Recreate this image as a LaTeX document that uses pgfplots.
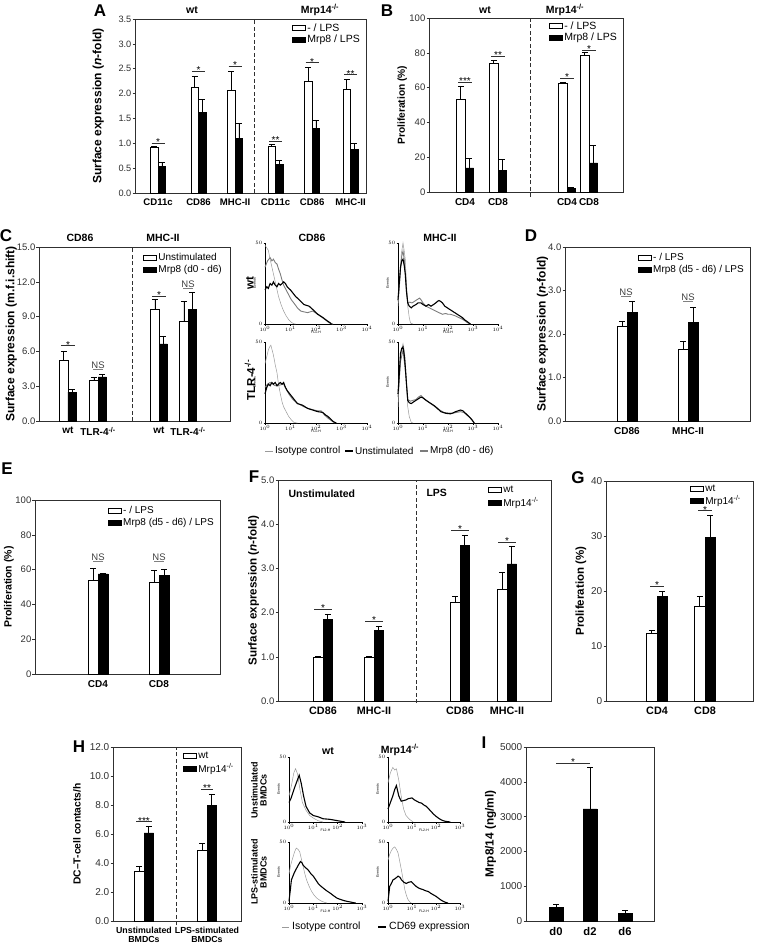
\documentclass[border=0pt]{standalone}
\usepackage{fontspec}
\setmainfont{Liberation Sans}
\setsansfont{Liberation Sans}
\usepackage{pgfplots}
\pgfplotsset{compat=1.18}
\definecolor{axc}{HTML}{303030}
\definecolor{isoc}{HTML}{9A9A9A}
\definecolor{mrpc}{HTML}{7C7C7C}

\newcommand\sstar[4]{\draw[axc,line width=0.6pt] (axis cs:#1,#3) -- node[anchor=south,inner sep=0pt,yshift=-2.8pt,font=\fontsize{10}{10}\selectfont,text=black]{#4} (axis cs:#2,#3);}
\newcommand\sns[3]{\draw[gray,line width=0.6pt] (axis cs:#1,#3) -- node[anchor=south,inner sep=0.4pt,font=\fontsize{9.5}{10}\selectfont,text=darkgray]{NS} (axis cs:#2,#3);}
\newcommand\dline[3]{\draw[axc,dash pattern=on 4pt off 2.5pt,line width=0.8pt] (axis cs:#1,#2) -- (axis cs:#1,#3);}
\newcommand\fs[1]{\fontsize{#1}{#1}\selectfont}

\pgfplotsset{
 bp/.style={
  scale only axis, ybar=0pt, bar width=8pt, ymin=0,
  axis line style={draw=axc,line width=0.8pt},
  ytick pos=left, tick align=outside, major tick length=2.5pt,
  ytick style={draw=axc,line width=0.6pt},
  xtick style={draw=none},
  yticklabel style={font=\fs{9.5}, text=axc, inner sep=1pt},
  xticklabel style={font=\bfseries\fs{10}},
  ylabel style={font=\bfseries\fs{12}},
  /pgf/number format/assume math mode=true,
  /pgf/number format/1000 sep={},
  clip=false,
  error bars/y dir=plus, error bars/y explicit,
  error bars/error bar style={black,line width=0.7pt},
  error bars/error mark options={black,line width=0.7pt,mark size=3pt,rotate=90},
  legend style={draw=none,fill=none,font=\fs{10}, inner sep=0pt, row sep=-0.5pt, at={(1,1)}, anchor=north east, xshift=-4pt, yshift=-4pt},
  legend cell align=left,
 },
 onedec/.style={yticklabel style={/pgf/number format/fixed,/pgf/number format/fixed zerofill,/pgf/number format/precision=1}},
 wb/.style={fill=white,draw=black,line width=0.6pt, legend image code/.code={\draw[fill=white,draw=black,line width=0.6pt] (0pt,-2.5pt) rectangle (13pt,2.5pt);}},
 bb/.style={fill=black,draw=black,line width=0.6pt, legend image code/.code={\draw[fill=black,draw=black] (0pt,-2.5pt) rectangle (13pt,2.5pt);}},
 hist/.style={scale only axis, axis lines=left, axis line style={-,draw=black,line width=0.5pt},
  xmin=0, xmax=4, ymin=0, ymax=50, xtick={0,1,2,3,4},
  xticklabels={$10^0$,$10^1$,$10^2$,$10^3$,$10^4$}, ytick={0,50},
  tick align=outside, major tick length=1.5pt, tick style={black,line width=0.4pt},
  ticklabel style={font=\fs{4.5}, inner sep=1pt},
  ylabel={Events}, ylabel style={font=\fs{3.5}, yshift=-5pt},
  xlabel style={font=\fs{3.5}, yshift=5pt},
  enlargelimits=false, clip=false},
 hist3/.style={hist, xmax=3, xtick={0,1,2,3}, xticklabels={$10^0$,$10^1$,$10^2$,$10^3$}},
 iso/.style={isoc, line width=0.5pt, no marks},
 uns/.style={black, line width=1.1pt, no marks},
 mrp/.style={mrpc, line width=0.9pt, no marks},
}

\begin{document}
\begin{tikzpicture}
\path[use as bounding box] (0pt,0pt) rectangle (757pt,-943pt);
\tikzset{lett/.style={font=\bfseries\fs{17}}, ttl/.style={font=\bfseries\fs{10.5}}}

% ---------------- A ----------------
\begin{axis}[bp, onedec, at={(135pt,-193pt)}, anchor=south west, width=231pt, height=174pt,
  xmin=0, xmax=6, ymax=3.5, ytick={0,0.5,...,3.5}, bar width=7.5pt,
  yticklabel style={font=\fs{9.2}},
  xtick={0.6,1.65,2.6,3.65,4.6,5.6}, xticklabels={CD11c,CD86,MHC-II,CD11c,CD86,MHC-II},
  xticklabel style={font=\bfseries\fs{9.6}},
  ylabel={Surface expression (\textit{n}-fold)}, ylabel shift=10pt,
  legend style={font=\fs{10.5}, row sep=-2pt, yshift=1.5pt}]
\addplot[wb] coordinates {(0.6,0.92)+-(0,0.01) (1.65,2.12)+-(0,0.23) (2.6,2.07)+-(0,0.38) (3.65,0.93)+-(0,0.05) (4.6,2.24)+-(0,0.29) (5.6,2.08)+-(0,0.2)};
\addplot[bb] coordinates {(0.6,0.53)+-(0,0.09) (1.65,1.62)+-(0,0.26) (2.6,1.10)+-(0,0.30) (3.65,0.57)+-(0,0.08) (4.6,1.30)+-(0,0.17) (5.6,0.87)+-(0,0.13)};
\legend{- / LPS, Mrp8 / LPS}
\dline{3.1}{0}{3.5}
\sstar{0.43}{0.77}{1.0}{*}
\sstar{1.48}{1.82}{2.45}{*}
\sstar{2.43}{2.77}{2.55}{*}
\sstar{3.48}{3.82}{1.05}{**}
\sstar{4.43}{4.77}{2.62}{*}
\sstar{5.43}{5.77}{2.38}{**}
\end{axis}
\node[lett] at (100pt,-11pt) {A};
\node[ttl] at (192pt,-10pt) {wt};
\node[ttl] at (320pt,-10pt) {Mrp14\textsuperscript{-/-}};

% ---------------- B ----------------
\begin{axis}[bp, at={(429pt,-192pt)}, anchor=south west, width=194pt, height=174pt,
  xmin=0, xmax=19.4, ymax=100, ytick={0,20,...,100}, bar width=8.5pt,
  xtick={3.6,6.9,13.8,16.0}, xticklabels={CD4,CD8,CD4,CD8},
  xticklabel style={font=\bfseries\fs{10}},
  ylabel={Proliferation (\%)}, ylabel style={font=\bfseries\fs{10.2}}, ylabel shift=-2pt,
  legend style={font=\fs{10.5}, row sep=-2pt, yshift=2.5pt}]
\addplot[wb] coordinates {(3.6,53)+-(0,7.5) (6.9,74)+-(0,1.6) (13.8,62.3)+-(0,0.9) (16.0,78.5)+-(0,1.8)};
\addplot[bb] coordinates {(3.6,13.8)+-(0,5.4) (6.9,12.3)+-(0,6.4) (13.8,2.3)+-(0,0.4) (16.0,16.7)+-(0,10.1)};
\legend{- / LPS, Mrp8 / LPS}
\dline{10.1}{-3}{100}
\sstar{2.9}{4.3}{63}{***}
\sstar{6.2}{7.6}{78}{**}
\sstar{13.1}{14.5}{65.5}{*}
\sstar{15.3}{16.7}{81.5}{*}
\end{axis}
\node[lett] at (387pt,-11pt) {B};
\node[ttl] at (485pt,-10pt) {wt};
\node[ttl] at (565pt,-10pt) {Mrp14\textsuperscript{-/-}};

% ---------------- C bars ----------------
\begin{axis}[bp, onedec, at={(39pt,-421pt)}, anchor=south west, width=191pt, height=174pt,
  xmin=0, xmax=19.1, ymax=15, ytick={0,3,...,15}, bar width=8.3pt,
  xtick={2.9,5.9,12.0,14.9}, xticklabels={wt,TLR-4\textsuperscript{-/-},wt,TLR-4\textsuperscript{-/-}},
  ylabel={Surface expression (m.f.i.shift)}, ylabel shift=-4.5pt, legend style={xshift=-2pt}]
\addplot[wb] coordinates {(2.9,5.2)+-(0,0.8) (5.9,3.55)+-(0,0.25) (12.0,9.65)+-(0,0.8) (14.9,8.6)+-(0,1.7)};
\addplot[bb] coordinates {(2.9,2.5)+-(0,0.2) (5.9,3.8)+-(0,0.2) (12.0,6.65)+-(0,0.65) (14.9,9.65)+-(0,1.45)};
\legend{Unstimulated, Mrp8 (d0 - d6)}
\dline{9.3}{0}{15}
\sstar{2.2}{3.6}{6.5}{*}
\sns{5.4}{6.4}{4.5}
\sstar{11.3}{12.7}{10.75}{*}
\sns{14.4}{15.4}{11.45}
\end{axis}
\node[lett] at (6pt,-236pt) {C};
\node[ttl] at (80pt,-238pt) {CD86};
\node[ttl] at (163pt,-238pt) {MHC-II};

% ---------------- C histograms ----------------
\begin{axis}[hist, at={(265pt,-324pt)}, anchor=south west, width=102pt, height=81pt, xlabel={FL1-H}]
\addplot[iso] coordinates {(0,48.6)(0.13,45.5)(0.2,40)(0.33,31)(0.43,24)(0.53,17)(0.63,12)(0.73,8)(0.83,5)(0.93,2.7)(1.03,1)(1.13,0.2)(1.2,0)};
\addplot[mrp] coordinates {(0,35)(0.1,39)(0.2,41)(0.27,39)(0.33,40)(0.4,38)(0.47,37)(0.53,34)(0.6,31)(0.67,27)(0.73,24)(0.83,21)(0.93,18)(1.03,15)(1.13,13)(1.27,10)(1.4,8)(1.53,7.5)(1.67,7)(1.77,7.5)(1.87,8)(1.97,7)(2.07,6)(2.2,4.5)(2.33,3)(2.43,1.8)(2.53,0.6)(2.67,0)};
\addplot[uns] coordinates {(0,21)(0.07,23)(0.13,22)(0.2,25)(0.27,24)(0.33,26)(0.4,24)(0.47,23)(0.53,25)(0.6,24)(0.67,25)(0.73,26)(0.8,25)(0.87,23)(0.93,22)(1.0,21)(1.1,19)(1.2,17)(1.27,16)(1.4,14)(1.53,12)(1.63,11.5)(1.73,11)(1.8,10)(1.87,9)(1.97,7.5)(2.07,6)(2.17,5)(2.27,4)(2.37,2.8)(2.47,1.6)(2.55,0.8)(2.6,0)};
\end{axis}
\begin{axis}[hist, at={(398pt,-324pt)}, anchor=south west, width=100pt, height=81pt, xlabel={FL4-H}]
\addplot[iso] coordinates {(0,11)(0.07,25)(0.13,43)(0.2,50)(0.25,45)(0.29,40)(0.34,25)(0.39,11)(0.45,4)(0.5,0.6)(0.6,0)};
\addplot[mrp] coordinates {(0,14)(0.05,24)(0.1,34)(0.15,42)(0.2,45)(0.25,40)(0.29,32)(0.34,20)(0.39,13)(0.47,13.5)(0.56,13)(0.66,14)(0.76,15)(0.86,16)(0.92,15)(1.0,13)(1.12,11)(1.25,10)(1.38,9)(1.51,8)(1.64,7)(1.78,6)(1.9,6.5)(2.0,6)(2.1,6)(2.2,5.5)(2.3,5)(2.43,4)(2.57,3)(2.67,2)(2.76,1)(2.85,0.3)(2.9,0)};
\addplot[uns] coordinates {(0,15)(0.05,25)(0.1,35)(0.15,39)(0.2,40)(0.25,36)(0.29,31)(0.34,20)(0.39,13)(0.45,11)(0.53,10)(0.6,11)(0.72,12)(0.8,13)(0.92,13)(1.0,12)(1.12,11)(1.22,12)(1.32,11)(1.42,12)(1.51,13)(1.58,14)(1.64,14.5)(1.7,14)(1.78,13)(1.87,11)(1.97,10)(2.07,9)(2.17,8)(2.27,7)(2.37,6)(2.47,5)(2.57,4)(2.67,2.5)(2.76,1.6)(2.85,0.5)(2.9,0)};
\end{axis}
\begin{axis}[hist, at={(265pt,-423pt)}, anchor=south west, width=102pt, height=81pt, xlabel={FL1-H}]
\addplot[iso] coordinates {(0,36.7)(0.07,41)(0.13,45)(0.18,47)(0.23,48)(0.28,45)(0.33,42)(0.4,36)(0.47,31)(0.53,24)(0.6,18)(0.67,13)(0.73,10)(0.83,7)(0.93,4)(1.03,2)(1.13,0.4)(1.27,0)};
\addplot[mrp] coordinates {(0,22)(0.1,24)(0.2,25)(0.3,24)(0.4,23)(0.47,23)(0.6,23.5)(0.73,24)(0.83,21)(0.93,18)(1.07,15)(1.2,13)(1.35,11.5)(1.53,10)(1.7,9)(1.93,8)(2.07,7.5)(2.2,7.5)(2.33,5)(2.47,3)(2.6,1.5)(2.73,0)};
\addplot[uns] coordinates {(0,18)(0.07,22)(0.13,24)(0.2,23)(0.27,25)(0.33,24)(0.4,25)(0.47,23)(0.53,24)(0.6,25)(0.67,24)(0.73,25)(0.8,22)(0.87,20)(0.97,18)(1.07,16)(1.17,14)(1.27,12)(1.37,11.5)(1.47,11)(1.57,10)(1.67,9)(1.77,8.5)(1.87,8)(1.97,7.5)(2.07,7)(2.17,6.8)(2.27,6.5)(2.37,5)(2.47,4)(2.57,2.5)(2.67,1)(2.75,0.3)(2.8,0)};
\end{axis}
\begin{axis}[hist, at={(398pt,-423pt)}, anchor=south west, width=100pt, height=81pt, xlabel={FL4-H}]
\addplot[iso] coordinates {(0,10)(0.05,25)(0.1,39)(0.15,46)(0.2,49)(0.25,45)(0.29,39)(0.34,25)(0.39,10)(0.45,4)(0.53,0.4)(0.6,0)};
\addplot[mrp] coordinates {(0,16)(0.1,38)(0.2,45)(0.29,33)(0.39,14.5)(0.5,13.5)(0.6,14)(0.72,14.5)(0.82,16)(0.92,17)(1.05,15)(1.18,13.5)(1.3,12)(1.4,11)(1.51,9.6)(1.67,8)(1.84,6.5)(2.0,6.2)(2.17,6)(2.33,6.5)(2.5,7)(2.63,6.5)(2.76,5)(2.86,3.5)(2.96,2)(3.05,0)};
\addplot[uns] coordinates {(0,18)(0.05,30)(0.1,43)(0.15,46)(0.2,47)(0.25,42)(0.29,35)(0.34,24)(0.39,14)(0.45,12.5)(0.53,12)(0.62,13)(0.72,14)(0.82,15)(0.92,16)(1.0,15.5)(1.12,14)(1.22,13)(1.32,12)(1.42,11)(1.51,10)(1.61,8.5)(1.71,7)(1.81,6.5)(1.91,6)(2.0,5.8)(2.1,5.7)(2.2,6.2)(2.3,7)(2.4,7.5)(2.5,8)(2.6,7.5)(2.7,6)(2.8,4.5)(2.9,3)(2.98,1.5)(3.05,0)};
\end{axis}
\node[ttl] at (312pt,-238pt) {CD86};
\node[ttl] at (440pt,-238pt) {MHC-II};
\node[ttl,rotate=90,font=\bfseries\fs{11.5}] at (250pt,-283pt) {wt};
\node[ttl,rotate=90,font=\bfseries\fs{11.5}] at (250pt,-380pt) {TLR-4\textsuperscript{-/-}};
\draw[isoc,line width=0.5pt] (265pt,-451pt) -- (273pt,-451pt);
\node[anchor=west,inner sep=1pt,font=\fs{10}] at (274pt,-451pt) {Isotype control};
\draw[black,line width=1.6pt] (345pt,-451pt) -- (353pt,-451pt);
\node[anchor=west,inner sep=1pt,font=\fs{10}] at (354pt,-451pt) {Unstimulated};
\draw[mrpc,line width=1.6pt] (420pt,-451pt) -- (428pt,-451pt);
\node[anchor=west,inner sep=1pt,font=\fs{10}] at (429pt,-451pt) {Mrp8 (d0 - d6)};

% ---------------- D ----------------
\begin{axis}[bp, onedec, at={(565pt,-421pt)}, anchor=south west, width=185pt, height=174pt,
  xmin=0, xmax=18.5, ymax=4, ytick={0,1,...,4}, bar width=10pt,
  xtick={6.2,12.3}, xticklabels={CD86,MHC-II},
  ylabel={Surface expression (\textit{n}-fold)}, ylabel shift=-4.5pt]
\addplot[wb] coordinates {(6.2,2.18)+-(0,0.11) (12.3,1.64)+-(0,0.18)};
\addplot[bb] coordinates {(6.2,2.49)+-(0,0.25) (12.3,2.27)+-(0,0.34)};
\legend{- / LPS, Mrp8 (d5 - d6) / LPS}
\sns{5.6}{6.6}{2.87}
\sns{11.8}{12.8}{2.75}
\end{axis}
\node[lett] at (531pt,-236pt) {D};

% ---------------- E ----------------
\begin{axis}[bp, at={(35pt,-674pt)}, anchor=south west, width=185pt, height=174pt,
  xmin=0, xmax=18.5, ymax=100, ytick={0,20,...,100}, bar width=10pt,
  xtick={6.3,12.4}, xticklabels={CD4,CD8},
  ylabel={Proliferation (\%)}, ylabel style={font=\bfseries\fs{10.5}}, ylabel shift=-3pt]
\addplot[wb] coordinates {(6.3,53.6)+-(0,6.9) (12.4,52.7)+-(0,6.9)};
\addplot[bb] coordinates {(6.3,57.5)+-(0,0.4) (12.4,56.7)+-(0,3.3)};
\legend{- / LPS, Mrp8 (d5 - d6) / LPS}
\sns{5.8}{6.8}{65}
\sns{11.9}{12.9}{65}
\end{axis}
\node[lett] at (7pt,-469pt) {E};

% ---------------- F ----------------
\begin{axis}[bp, onedec, at={(278pt,-701pt)}, anchor=south west, width=273pt, height=221pt,
  xmin=0, xmax=27.3, ymax=5, ytick={0,1,...,5}, bar width=9.5pt,
  xtick={4.5,9.6,18.2,22.9}, xticklabels={CD86,MHC-II,CD86,MHC-II},
  xticklabel style={font=\bfseries\fs{10.8}},
  ylabel={Surface expression (\textit{n}-fold)}, ylabel style={font=\bfseries\fs{11.6}}, ylabel shift=-2.5pt,
  legend style={xshift=-6pt}]
\addplot[wb] coordinates {(4.5,1.0)+-(0,0) (9.6,1.0)+-(0,0) (18.2,2.24)+-(0,0.13) (22.9,2.52)+-(0,0.4)};
\addplot[bb] coordinates {(4.5,1.85)+-(0,0.12) (9.6,1.6)+-(0,0.09) (18.2,3.52)+-(0,0.23) (22.9,3.1)+-(0,0.4)};
\legend{wt, Mrp14\textsuperscript{-/-}}
\dline{13.8}{-0.05}{5}
\sstar{3.6}{5.4}{2.08}{*}
\sstar{8.7}{10.5}{1.8}{*}
\sstar{17.3}{19.1}{3.87}{*}
\sstar{22.0}{23.8}{3.6}{*}
\node[anchor=west,font=\bfseries\fs{10.5}] at (axis cs:0.7,4.7) {Unstimulated};
\node[anchor=west,font=\bfseries\fs{10.5}] at (axis cs:14.5,4.7) {LPS};
\end{axis}
\node[lett] at (254pt,-477pt) {F};

% ---------------- G ----------------
\begin{axis}[bp, at={(606pt,-701pt)}, anchor=south west, width=147pt, height=220pt,
  xmin=0, xmax=14.7, ymax=40, ytick={0,10,...,40}, bar width=10.5pt,
  yticklabel style={font=\fs{10}},
  xtick={5.1,9.9}, xticklabels={CD4,CD8}, xticklabel style={font=\bfseries\fs{10.8}},
  ylabel={Proliferation (\%)}, ylabel style={font=\bfseries\fs{11.5}}, ylabel shift=0.5pt,
  legend style={xshift=-6pt,yshift=2pt,row sep=-1.5pt}]
\addplot[wb] coordinates {(5.1,12.4)+-(0,0.4) (9.9,17.3)+-(0,1.7)};
\addplot[bb] coordinates {(5.1,19.0)+-(0,1.0) (9.9,29.8)+-(0,4.0)};
\legend{wt, Mrp14\textsuperscript{-/-}}
\sstar{4.4}{5.8}{20.9}{*}
\sstar{9.2}{10.6}{34.6}{*}
\end{axis}
\node[lett] at (578pt,-478pt) {G};

% ---------------- H ----------------
\begin{axis}[bp, onedec, at={(113pt,-921pt)}, anchor=south west, width=128pt, height=174pt,
  xmin=0, xmax=12.8, ymax=12, ytick={0,2,...,12}, bar width=9.5pt,
  yticklabel style={font=\fs{10}},
  xtick={3.1,9.4}, xticklabels={{Unstimulated\\BMDCs},{LPS-stimulated\\BMDCs}},
  xticklabel style={align=center, font=\bfseries\fs{8.8}},
  ylabel={DC--T-cell contacts/h}, ylabel style={font=\bfseries\fs{10.3}}, ylabel shift=4.5pt,
  legend style={xshift=-1pt,yshift=1pt}]
\addplot[wb] coordinates {(3.1,3.46)+-(0,0.32) (9.4,4.88)+-(0,0.5)};
\addplot[bb] coordinates {(3.1,6.08)+-(0,0.46) (9.4,8.0)+-(0,0.76)};
\legend{wt, Mrp14\textsuperscript{-/-}}
\dline{6.3}{-0.3}{12}
\sstar{2.3}{3.9}{6.85}{***}
\sstar{8.8}{10.0}{9.1}{**}
\end{axis}
\node[lett] at (79pt,-747pt) {H};

% ---------------- H histograms ----------------
\begin{axis}[hist3, at={(289pt,-822pt)}, anchor=south west, width=73pt, height=65pt, xlabel={FL2-H}]
\addplot[iso] coordinates {(0,20)(0.1,28)(0.2,38)(0.27,41)(0.35,37)(0.45,25)(0.55,15)(0.7,9)(0.85,5)(1.0,3)(1.2,1)(1.4,0)};
\addplot[uns] coordinates {(0,15)(0.08,18)(0.15,22)(0.22,26)(0.3,30)(0.36,33)(0.42,36)(0.5,30)(0.6,20)(0.7,12)(0.85,7)(1.0,5)(1.2,4)(1.4,2.5)(1.6,2.2)(1.7,2)(1.85,1.5)(2.0,1)(2.15,0.5)(2.3,0)};
\end{axis}
\begin{axis}[hist3, at={(388pt,-822pt)}, anchor=south west, width=72pt, height=65pt, xlabel={FL2-H}]
\addplot[iso] coordinates {(0,30)(0.1,38)(0.2,42)(0.28,40)(0.35,41)(0.45,32)(0.55,20)(0.65,10)(0.75,5)(0.9,2)(1.05,0)};
\addplot[uns] coordinates {(0,10)(0.1,15)(0.2,20)(0.28,25)(0.35,28)(0.45,20)(0.55,16)(0.65,16.5)(0.75,17)(0.85,18)(1.0,18.5)(1.1,17)(1.2,16)(1.3,15)(1.4,14.5)(1.5,13)(1.6,12)(1.7,10)(1.8,8)(1.9,6)(2.0,4.4)(2.1,3)(2.2,1.8)(2.3,1)(2.4,0.5)(2.6,0)};
\end{axis}
\begin{axis}[hist3, at={(289pt,-903pt)}, anchor=south west, width=73pt, height=61pt, xlabel={FL2-H}]
\addplot[iso] coordinates {(0,24)(0.08,32)(0.17,38)(0.23,42)(0.3,45)(0.37,44)(0.44,42)(0.51,36)(0.58,30)(0.65,24)(0.72,19)(0.82,14)(0.93,9.5)(1.03,6.5)(1.14,4)(1.25,2.5)(1.35,1.4)(1.45,0.6)(1.56,0)};
\addplot[uns] coordinates {(0,1.4)(0.05,10)(0.1,19)(0.2,24)(0.3,28)(0.38,31)(0.47,34)(0.53,33)(0.58,31)(0.68,29)(0.79,27)(0.9,24)(1.0,22)(1.1,19)(1.2,16)(1.3,14)(1.42,12)(1.55,10)(1.7,8)(1.83,6)(1.97,4)(2.1,3)(2.25,2)(2.4,1.3)(2.53,0.8)(2.65,0.3)(2.74,0)};
\end{axis}
\begin{axis}[hist3, at={(388pt,-903pt)}, anchor=south west, width=72pt, height=61pt, xlabel={FL2-H}]
\addplot[iso] coordinates {(0,35)(0.07,40)(0.14,43)(0.21,45)(0.28,46)(0.35,44)(0.42,41)(0.49,34)(0.56,27)(0.63,19)(0.7,11)(0.77,6)(0.83,3)(0.9,1)(0.97,0)};
\addplot[uns] coordinates {(0,1.4)(0.04,8)(0.07,13.5)(0.14,16)(0.21,19)(0.3,20)(0.42,22)(0.5,21)(0.56,19)(0.66,17)(0.76,16)(0.86,17)(0.97,17.5)(1.07,15.5)(1.18,13.5)(1.3,12)(1.46,11)(1.57,10)(1.67,9.5)(1.78,8)(1.88,6.8)(2.0,5.5)(2.1,4)(2.2,2.5)(2.3,1.4)(2.4,0.5)(2.5,0)};
\end{axis}
\node[ttl] at (328pt,-751pt) {wt};
\node[ttl] at (400pt,-750pt) {Mrp14\textsuperscript{-/-}};
\node[rotate=90,align=center,font=\bfseries\fs{9}] at (259pt,-790pt) {Unstimulated\\BMDCs};
\node[rotate=90,align=center,font=\bfseries\fs{9}] at (259pt,-872pt) {LPS-stimulated\\BMDCs};
\draw[isoc,line width=0.6pt] (282pt,-927pt) -- (289pt,-927pt);
\node[anchor=west,inner sep=1pt,font=\fs{10.5}] at (291pt,-927pt) {Isotype control};
\draw[black,line width=1.8pt] (378pt,-927pt) -- (386pt,-927pt);
\node[anchor=west,inner sep=1pt,font=\fs{10.5}] at (388pt,-927pt) {CD69 expression};

% ---------------- I ----------------
\begin{axis}[bp, at={(526pt,-921pt)}, anchor=south west, width=128pt, height=174pt,
  xmin=0, xmax=12.8, ymax=5000, ytick={0,1000,...,5000}, bar width=14pt,
  yticklabel style={font=\fs{10}},
  xtick={3.0,6.4,9.9}, xticklabels={d0,d2,d6}, xticklabel style={font=\bfseries\fs{11.2}},
  ylabel={Mrp8/14 (ng/ml)}, ylabel style={font=\bfseries\fs{11.8}}, ylabel shift=-0.5pt]
\addplot[bb] coordinates {(3.0,380)+-(0,105) (6.4,3220)+-(0,1185) (9.9,225)+-(0,85)};
\sstar{3.0}{6.4}{4540}{*}
\end{axis}
\node[lett] at (484pt,-743pt) {I};
\end{tikzpicture}
\end{document}
